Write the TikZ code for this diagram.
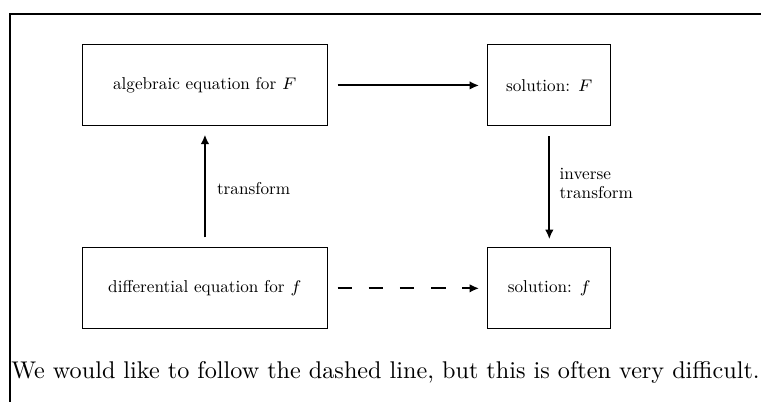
\documentclass[tikz,border=0pt]{standalone}
\usepackage{fontspec}
\setmainfont{lmroman10-regular.otf}[ItalicFont=lmroman10-italic.otf, BoldFont=lmroman10-bold.otf]
\usetikzlibrary{arrows.meta,positioning}

\begin{document}
\begin{tikzpicture}[
			node distance=50.4pt and 66.6pt,
			box/.style={rectangle, draw, minimum height=33.75pt, minimum width=101.7pt, align=center, font=\fontsize{7.15}{8}\selectfont},
			smallbox/.style={box, minimum width=51.3pt},
			arr/.style={-{Latex[length=4pt,width=3.6pt]}, thick, shorten <=4.2pt, shorten >=3.4pt},
			lbl/.style={font=\fontsize{7.15}{8}\selectfont, align=left}
			]
			\useasboundingbox (0,0) rectangle (317.1pt,-167.5pt);
			\draw[line width=0.6pt] (4.17pt,-167.5pt) |- (317.1pt,-5.83pt);
			\node[box] (alg) at (85.4pt,-35.6pt) {algebraic equation for $F$};
			\node[smallbox, right=of alg] (solF) {solution: $F$};
			\node[box, below=of alg] (diff) {differential equation for $f$};
			\node[smallbox, below=of solF] (solf) {solution: $f$};
			\draw[arr] (alg) -- (solF);
			\draw[arr] (diff) -- node[lbl, right=1.3pt, yshift=-0.8pt] {transform} (alg);
			\draw[arr] (solF) -- node[lbl, right=0.6pt, yshift=1.3pt] {inverse\\transform} (solf);
			\draw[arr, dash pattern=on 6pt off 7pt] (diff) -- (solf);
			\node[anchor=base west, inner sep=0pt, font=\fontsize{10.08}{12}\selectfont] (note) at (4.5pt,-157.7pt) {We would like to follow the dashed line, but this is often very difficult.};
		\end{tikzpicture}
\end{document}
